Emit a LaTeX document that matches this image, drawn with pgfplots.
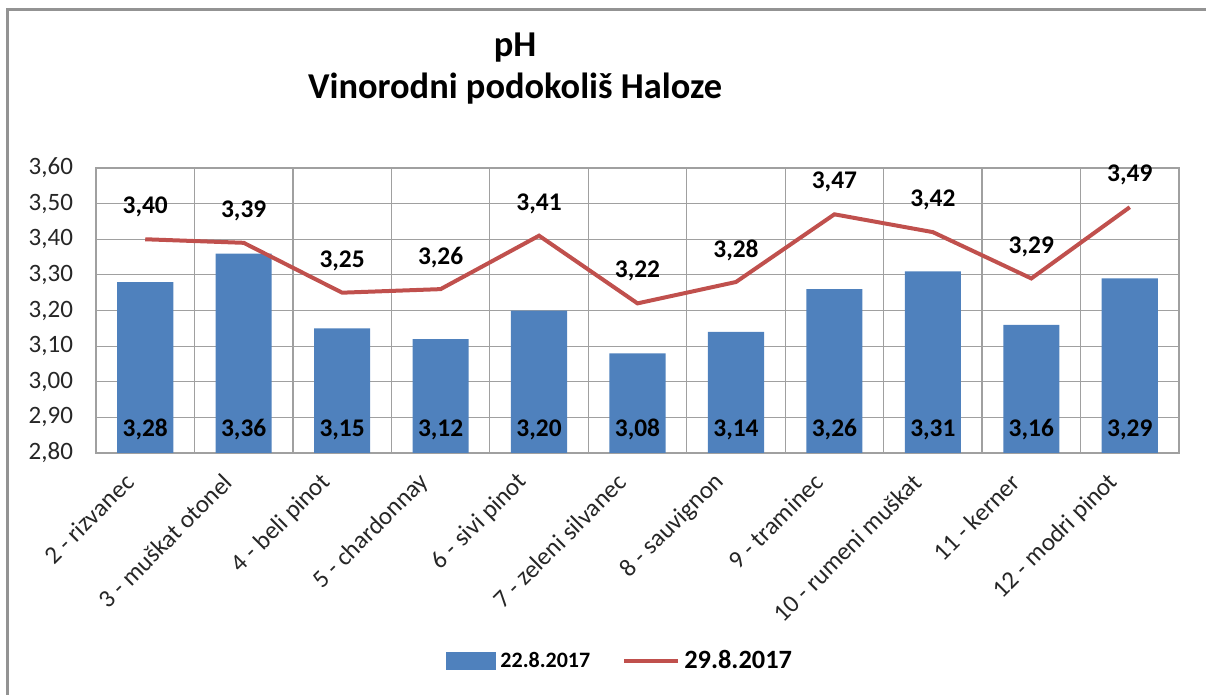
\documentclass[border=0pt]{standalone}
\usepackage{fontspec}
\setmainfont{Carlito}
\usepackage{pgfplots}
\pgfplotsset{compat=1.18}
\usepackage{pgfplotstable}
\usetikzlibrary{calc}

\definecolor{barblue}{HTML}{4F81BD}
\definecolor{linered}{HTML}{C0504D}
\definecolor{gridgray}{HTML}{A0A0A0}

% x, 22.8.2017 (bars), 29.8.2017 (line)
\pgfplotstableread{
x a b
0 3.28 3.40
1 3.36 3.39
2 3.15 3.25
3 3.12 3.26
4 3.20 3.41
5 3.08 3.22
6 3.14 3.28
7 3.26 3.47
8 3.31 3.42
9 3.16 3.29
10 3.29 3.49
}\phdata

\begin{document}
\begin{tikzpicture}
\begin{axis}[
    scale only axis,
    width=541.5pt, height=142.5pt,
    xmin=-0.5, xmax=10.5,
    ymin=2.8, ymax=3.6,
    ytick={2.8,2.9,3.0,3.1,3.2,3.3,3.4,3.5,3.6},
    xtick={0,1,2,3,4,5,6,7,8,9,10},
    xticklabels={2 - rizvanec, 3 - muškat otonel, 4 - beli pinot, 5 - chardonnay,
      6 - sivi pinot, 7 - zeleni silvanec, 8 - sauvignon, 9 - traminec,
      10 - rumeni muškat, 11 - kerner, 12 - modri pinot},
    minor xtick={-0.5,0.5,1.5,2.5,3.5,4.5,5.5,6.5,7.5,8.5,9.5,10.5},
    xminorgrids=true, ymajorgrids=true,
    grid style={draw=gridgray, line width=0.6pt},
    minor grid style={draw=gridgray, line width=0.6pt},
    tick style={draw=none},
    axis line style={draw=gridgray, line width=0.6pt},
    /pgf/number format/.cd, use comma, fixed, fixed zerofill, precision=2, assume math mode=true,
    /pgfplots/.cd,
    yticklabel style={font=\fontsize{12.5}{15}\selectfont, text=black!85, xshift=-8pt},
    xticklabel style={font=\fontsize{12.5}{15}\selectfont, text=black!85, rotate=45, anchor=east, xshift=-11pt, yshift=-3.4pt},
    legend columns=2,
    legend style={draw=none, at={(axis description cs:0.485,-0.73)}, anchor=center,
      /tikz/every even column/.append style={column sep=14pt}},
    legend cell align=left,
]
\coordinate (O) at (rel axis cs:0,0);
\addplot[ybar, bar width=0.57, fill=barblue, draw=none,
    legend image code/.code={\fill[barblue] (0pt,-4.5pt) rectangle (25pt,4.5pt);}]
  table[x=x, y=a] {\phdata};
\addlegendentry{\fontsize{11}{13}\selectfont\bfseries 22.8.2017}
\addplot[linered, line width=2pt, mark=none,
    legend image code/.code={\draw[linered, line width=2pt] (0pt,0pt) -- (27pt,0pt);},
    nodes near coords={\pgfmathprintnumber{\pgfplotspointmeta}},
    every node near coord/.append style={anchor=center, yshift=16pt, text=black,
      font=\fontsize{12.7}{15}\selectfont\bfseries}]
  table[x=x, y=b] {\phdata};
\addlegendentry{\fontsize{13.2}{15}\selectfont\bfseries 29.8.2017}
% bar values, written near the base of each bar
\addplot[draw=none, mark=none, forget plot, point meta=explicit,
    nodes near coords={\pgfmathprintnumber{\pgfplotspointmeta}},
    every node near coord/.append style={anchor=center, text=black,
      font=\fontsize{12.7}{15}\selectfont\bfseries}]
  table[x=x, y expr=2.865, meta=a] {\phdata};
\end{axis}
% outer chart frame (cut off at the right and bottom)
\draw[gray!85, line width=1.5pt] ($(O)+(-44pt,-130pt)$) -- ($(O)+(-44pt,221.5pt)$) -- ($(O)+(560pt,221.5pt)$);
\node[font=\fontsize{18.2}{21}\selectfont\bfseries] at ($(O)+(209.5pt,202.5pt)$) {pH};
\node[font=\fontsize{18.2}{21}\selectfont\bfseries] at ($(O)+(209.5pt,182pt)$) {Vinorodni podokoliš Haloze};
\pgfresetboundingbox
\path[use as bounding box] ($(O)+(-48pt,-121pt)$) rectangle ($(O)+(555pt,226.5pt)$);
\end{tikzpicture}
\end{document}
